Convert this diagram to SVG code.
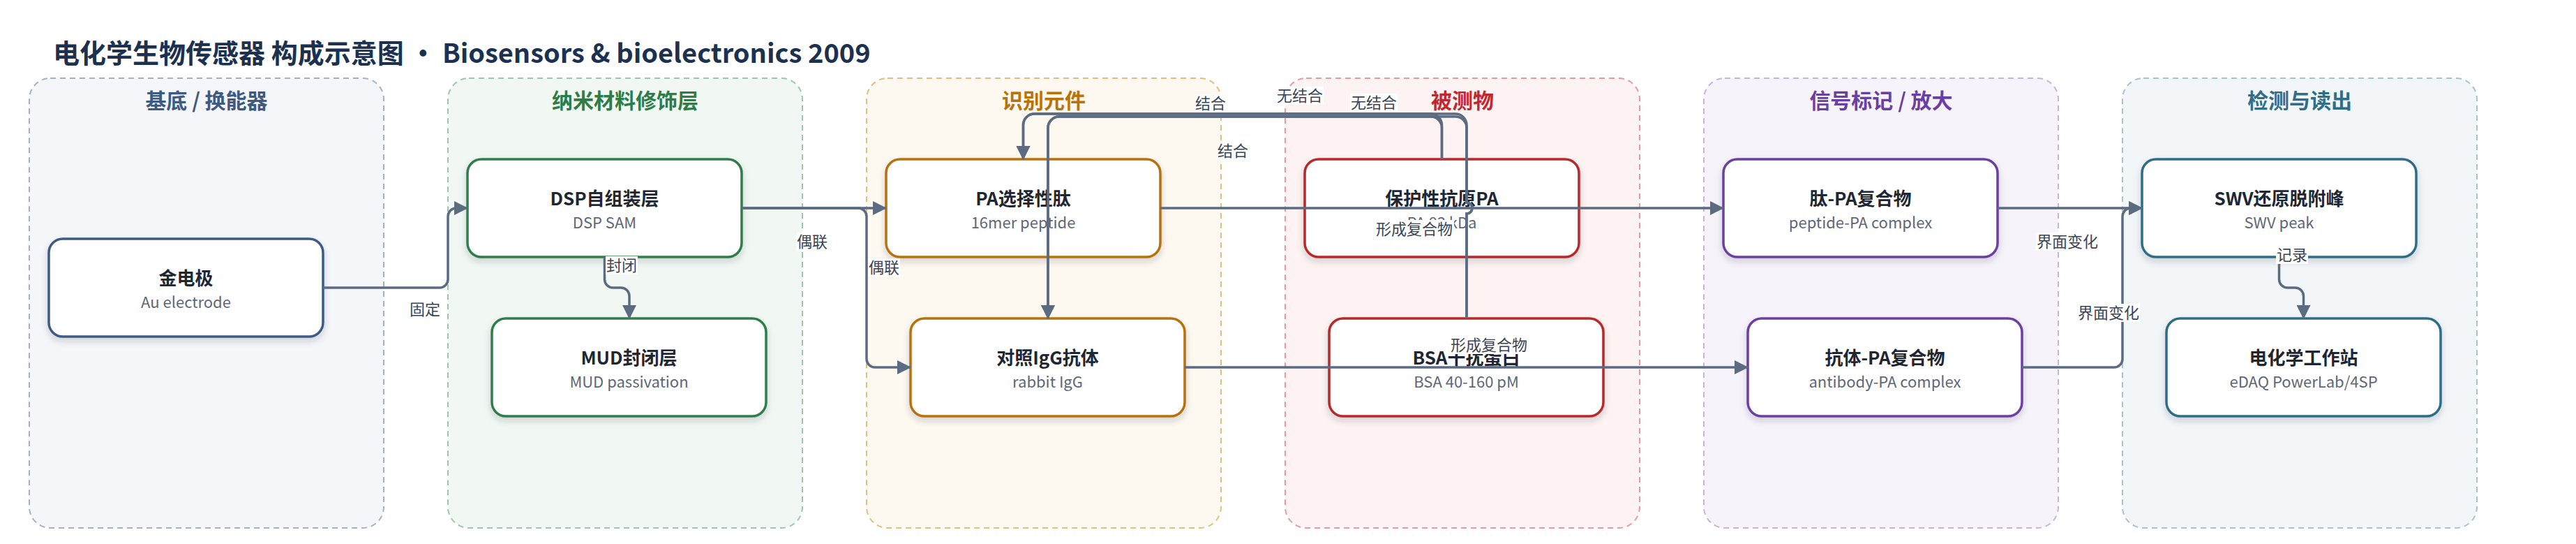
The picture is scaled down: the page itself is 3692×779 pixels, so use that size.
<svg xmlns="http://www.w3.org/2000/svg" width="3692" height="779" viewBox="0 0 3692 779">
<defs>
<style>
text{font-family:'Noto Sans CJK SC','Noto Sans',sans-serif}
.main{font-size:38px;font-weight:700;fill:#1c3150}
.ct{font-size:30px;font-weight:700;text-anchor:middle}
.cl{stroke-width:2;stroke-dasharray:8 6}
.nd{fill:#fff;stroke-width:3.5;filter:url(#sh)}
.nt{font-size:26px;font-weight:700;fill:#1f2633;text-anchor:middle}
.ns{font-size:22px;fill:#5d6778;text-anchor:middle}
.e{fill:none;stroke:#5b6b82;stroke-width:3.5}
.ea{marker-end:url(#ar)}
.lb{fill:#fff}
.lt{font-size:22px;fill:#3b4454;text-anchor:middle}
</style>
<filter id="sh" x="-10%" y="-15%" width="120%" height="145%">
<feDropShadow dx="0" dy="5" stdDeviation="5" flood-color="#1f2937" flood-opacity="0.18"/>
</filter>
<marker id="ar" markerUnits="userSpaceOnUse" markerWidth="20" markerHeight="20" viewBox="0 0 20 20" refX="19" refY="10" orient="auto">
<path d="M0,0 L20,10 L0,20 z" fill="#5b6b82"/>
</marker>
</defs>
<rect width="3692" height="779" fill="#fff"/>
<text class="main" x="76" y="90">电化学生物传感器 构成示意图 • Biosensors &amp; bioelectronics 2009</text>

<g id="cluster-substrate">
<rect class="cl" x="42" y="112" width="508" height="644" rx="30" fill="#f4f6fa" stroke="#a3b1c6"/>
<text class="ct" x="296" y="155" fill="#3d5a80">基底 / 换能器</text>
</g>
<g id="cluster-nano">
<rect class="cl" x="642" y="112" width="508" height="644" rx="30" fill="#f1f8f3" stroke="#9cc8a9"/>
<text class="ct" x="896" y="155" fill="#2e7d46">纳米材料修饰层</text>
</g>
<g id="cluster-recog">
<rect class="cl" x="1242" y="112" width="508" height="644" rx="30" fill="#fdf8f0" stroke="#e6bd80"/>
<text class="ct" x="1496" y="155" fill="#b8740a">识别元件</text>
</g>
<g id="cluster-analyte">
<rect class="cl" x="1842" y="112" width="508" height="644" rx="30" fill="#fdf3f2" stroke="#e79c9c"/>
<text class="ct" x="2096" y="155" fill="#c0282d">被测物</text>
</g>
<g id="cluster-signal">
<rect class="cl" x="2442" y="112" width="508" height="644" rx="30" fill="#f6f3fb" stroke="#c6b4e0"/>
<text class="ct" x="2696" y="155" fill="#6a3fa5">信号标记 / 放大</text>
</g>
<g id="cluster-detect">
<rect class="cl" x="3042" y="112" width="508" height="644" rx="30" fill="#f2f6f8" stroke="#a7c3ce"/>
<text class="ct" x="3296" y="155" fill="#2e6e88">检测与读出</text>
</g>

<g id="node-au">
<rect class="nd" x="70" y="342" width="393" height="140" rx="20" stroke="#3e5c85"/>
<text class="nt" x="266.5" y="408">金电极</text>
<text class="ns" x="266.5" y="441">Au electrode</text>
</g>
<g id="node-dsp">
<rect class="nd" x="670" y="228" width="393" height="140" rx="20" stroke="#2f7d4b"/>
<text class="nt" x="866.5" y="294">DSP自组装层</text>
<text class="ns" x="866.5" y="327">DSP SAM</text>
</g>
<g id="node-mud">
<rect class="nd" x="705" y="456" width="393" height="140" rx="20" stroke="#2f7d4b"/>
<text class="nt" x="901.5" y="522">MUD封闭层</text>
<text class="ns" x="901.5" y="555">MUD passivation</text>
</g>
<g id="node-peptide">
<rect class="nd" x="1270" y="228" width="393" height="140" rx="20" stroke="#b8720b"/>
<text class="nt" x="1466.5" y="294">PA选择性肽</text>
<text class="ns" x="1466.5" y="327">16mer peptide</text>
</g>
<g id="node-igg">
<rect class="nd" x="1305" y="456" width="393" height="140" rx="20" stroke="#b8720b"/>
<text class="nt" x="1501.5" y="522">对照IgG抗体</text>
<text class="ns" x="1501.5" y="555">rabbit IgG</text>
</g>
<g id="node-pa">
<rect class="nd" x="1870" y="228" width="393" height="140" rx="20" stroke="#b7292b"/>
<text class="nt" x="2066.5" y="294">保护性抗原PA</text>
<text class="ns" x="2066.5" y="327">PA 83 kDa</text>
</g>
<g id="node-bsa">
<rect class="nd" x="1905" y="456" width="393" height="140" rx="20" stroke="#b7292b"/>
<text class="nt" x="2101.5" y="522">BSA干扰蛋白</text>
<text class="ns" x="2101.5" y="555">BSA 40-160 pM</text>
</g>
<g id="node-pep-pa">
<rect class="nd" x="2470" y="228" width="393" height="140" rx="20" stroke="#6c3fa3"/>
<text class="nt" x="2666.5" y="294">肽-PA复合物</text>
<text class="ns" x="2666.5" y="327">peptide-PA complex</text>
</g>
<g id="node-ab-pa">
<rect class="nd" x="2505" y="456" width="393" height="140" rx="20" stroke="#6c3fa3"/>
<text class="nt" x="2701.5" y="522">抗体-PA复合物</text>
<text class="ns" x="2701.5" y="555">antibody-PA complex</text>
</g>
<g id="node-swv">
<rect class="nd" x="3070" y="228" width="393" height="140" rx="20" stroke="#2e6d87"/>
<text class="nt" x="3266.5" y="294">SWV还原脱附峰</text>
<text class="ns" x="3266.5" y="327">SWV peak</text>
</g>
<g id="node-station">
<rect class="nd" x="3105" y="456" width="393" height="140" rx="20" stroke="#2e6d87"/>
<text class="nt" x="3301.5" y="522">电化学工作站</text>
<text class="ns" x="3301.5" y="555">eDAQ PowerLab/4SP</text>
</g>

<g id="connectors">
<path class="e ea" d="M463,412 H630 A12,12 0 0 0 642,400 V310 A12,12 0 0 1 654,298 H670"/>
<path class="e ea" d="M866.5,368 V400 A12,12 0 0 0 878.5,412 H890 A12,12 0 0 1 902,424 V456"/>
<path class="e ea" d="M1063,298 H1270"/>
<path class="e ea" d="M1063,298 H1230 A12,12 0 0 1 1242,310 V514 A12,12 0 0 0 1254,526 H1305"/>
<path class="e ea" d="M2066.5,228 V179 A16,16 0 0 0 2050.5,163 H1482.5 A16,16 0 0 0 1466.5,179 V228"/>
<path class="e ea" d="M2066.5,228 V183 A16,16 0 0 0 2050.5,167 H1518 A16,16 0 0 0 1502,183 V456"/>
<path class="e ea" d="M2102,456 V306 A8,8 0 0 0 2102,290 V179 A16,16 0 0 0 2086,163 H1482.5 A16,16 0 0 0 1466.5,179 V228"/>
<path class="e ea" d="M2102,456 V306 A8,8 0 0 0 2102,290 V183 A16,16 0 0 0 2086,167 H1518 A16,16 0 0 0 1502,183 V456"/>
<path class="e ea" d="M1663,298 H2470"/>
<path class="e ea" d="M1698,526 H2505"/>
<path class="e ea" d="M2863,298 H3070"/>
<path class="e ea" d="M2898,526 H3030 A12,12 0 0 0 3042,514 V310 A12,12 0 0 1 3054,298 H3070"/>
<path class="e ea" d="M3266.5,368 V400 A12,12 0 0 0 3278.5,412 H3289.5 A12,12 0 0 1 3301.5,424 V456"/>

<rect class="lb" x="586" y="430" width="46" height="26"/><text class="lt" x="609" y="451">固定</text>
<rect class="lb" x="868" y="367" width="46" height="26"/><text class="lt" x="891" y="388">封闭</text>
<rect class="lb" x="1141" y="333" width="46" height="26"/><text class="lt" x="1164" y="354">偶联</text>
<rect class="lb" x="1244" y="370" width="46" height="26"/><text class="lt" x="1267" y="391">偶联</text>
<rect class="lb" x="1712" y="135" width="46" height="26"/><text class="lt" x="1735" y="156">结合</text>
<rect class="lb" x="1744" y="203" width="46" height="26"/><text class="lt" x="1767" y="224">结合</text>
<rect class="lb" x="1829" y="124" width="68" height="26"/><text class="lt" x="1863" y="145">无结合</text>
<rect class="lb" x="1935" y="134" width="68" height="26"/><text class="lt" x="1969" y="155">无结合</text>
<rect class="lb" x="1970" y="315" width="114" height="26"/><text class="lt" x="2027" y="336">形成复合物</text>
<rect class="lb" x="2077" y="481" width="114" height="26"/><text class="lt" x="2134" y="502">形成复合物</text>
<rect class="lb" x="2918" y="333" width="90" height="26"/><text class="lt" x="2963" y="354">界面变化</text>
<rect class="lb" x="2977" y="435" width="90" height="26"/><text class="lt" x="3022" y="456">界面变化</text>
<rect class="lb" x="3262" y="352" width="46" height="26"/><text class="lt" x="3285" y="373">记录</text>
</g>
</svg>
